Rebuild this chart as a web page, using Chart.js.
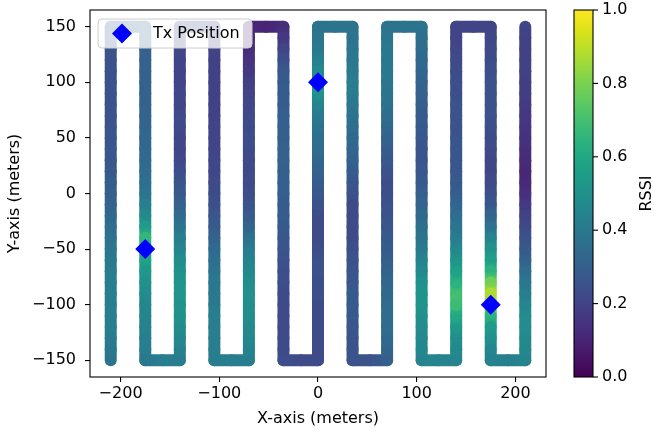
<!DOCTYPE html>
<html>
<head>
<meta charset="utf-8">
<script src="https://cdn.jsdelivr.net/npm/chart.js@4.4.1/dist/chart.umd.min.js"></script>
<style>
html,body{margin:0;padding:0;background:#fff;}
canvas{display:block;}
</style>
</head>
<body>
<canvas id="c" width="654" height="431"></canvas>
<script>
// ---------------- data ----------------
const laneX = [-210, -175, -140, -105, -70, -35, 0, 35, 70, 105, 140, 175, 210];
const laneY = [-150, -140, -130, -120, -110, -100, -90, -80, -70, -60, -50, -40, -30, -20, -10, 0,
               10, 20, 30, 40, 50, 60, 70, 80, 90, 100, 110, 120, 130, 140, 150];
// RSSI along each lane, listed from y = -150 (bottom) to y = 150 (top)
const rssiLane0  = [0.38,0.40,0.41,0.42,0.42,0.43,0.43,0.42,0.42,0.41,0.40,0.38,0.36,0.34,0.32,0.30,0.29,0.28,0.27,0.27,0.26,0.26,0.25,0.25,0.25,0.25,0.25,0.25,0.25,0.26,0.27];
const rssiLane1  = [0.40,0.42,0.43,0.44,0.45,0.46,0.48,0.50,0.53,0.58,0.63,0.66,0.55,0.47,0.42,0.38,0.36,0.35,0.34,0.33,0.33,0.32,0.32,0.31,0.31,0.31,0.31,0.31,0.31,0.32,0.32];
const rssiLane2  = [0.42,0.44,0.46,0.48,0.50,0.51,0.52,0.52,0.51,0.49,0.46,0.43,0.39,0.35,0.31,0.28,0.26,0.24,0.22,0.21,0.21,0.22,0.22,0.21,0.21,0.20,0.20,0.20,0.21,0.22,0.23];
const rssiLane3  = [0.42,0.42,0.42,0.42,0.42,0.41,0.40,0.40,0.38,0.36,0.34,0.31,0.28,0.26,0.24,0.23,0.22,0.21,0.21,0.20,0.20,0.20,0.19,0.19,0.19,0.19,0.19,0.19,0.20,0.20,0.21];
const rssiLane4  = [0.42,0.44,0.46,0.47,0.48,0.49,0.50,0.49,0.47,0.45,0.42,0.38,0.33,0.29,0.26,0.24,0.23,0.22,0.22,0.23,0.24,0.23,0.22,0.21,0.20,0.19,0.17,0.15,0.13,0.12,0.11];
const rssiLane5  = [0.24,0.23,0.23,0.22,0.22,0.23,0.23,0.24,0.24,0.25,0.26,0.27,0.28,0.29,0.29,0.30,0.30,0.30,0.31,0.31,0.30,0.30,0.30,0.29,0.29,0.28,0.27,0.24,0.20,0.16,0.13];
const rssiLane6  = [0.22,0.22,0.22,0.23,0.23,0.23,0.24,0.24,0.25,0.25,0.24,0.23,0.22,0.23,0.25,0.27,0.29,0.31,0.33,0.35,0.36,0.38,0.41,0.45,0.50,0.52,0.48,0.44,0.41,0.39,0.38];
const rssiLane7  = [0.25,0.25,0.26,0.27,0.28,0.28,0.28,0.27,0.26,0.25,0.24,0.23,0.22,0.22,0.23,0.25,0.27,0.29,0.31,0.33,0.34,0.36,0.38,0.40,0.42,0.42,0.41,0.40,0.39,0.38,0.38];
const rssiLane8  = [0.30,0.32,0.34,0.35,0.35,0.35,0.34,0.33,0.32,0.30,0.29,0.28,0.27,0.26,0.25,0.24,0.24,0.25,0.27,0.29,0.31,0.33,0.35,0.37,0.38,0.39,0.40,0.40,0.40,0.39,0.38];
const rssiLane9  = [0.45,0.46,0.47,0.48,0.50,0.51,0.51,0.50,0.47,0.44,0.41,0.38,0.36,0.34,0.32,0.30,0.28,0.27,0.26,0.26,0.27,0.28,0.29,0.30,0.31,0.32,0.33,0.34,0.35,0.36,0.38];
const rssiLane10 = [0.45,0.47,0.49,0.53,0.60,0.68,0.70,0.64,0.58,0.52,0.47,0.42,0.39,0.36,0.33,0.30,0.28,0.27,0.26,0.26,0.26,0.25,0.25,0.25,0.24,0.24,0.23,0.22,0.21,0.20,0.20];
const rssiLane11 = [0.44,0.46,0.50,0.55,0.65,0.85,0.88,0.78,0.64,0.56,0.50,0.44,0.37,0.32,0.27,0.24,0.22,0.21,0.21,0.22,0.23,0.24,0.25,0.25,0.25,0.25,0.24,0.23,0.22,0.21,0.20];
const rssiLane12 = [0.45,0.46,0.47,0.48,0.48,0.46,0.43,0.40,0.36,0.32,0.28,0.25,0.22,0.20,0.17,0.14,0.12,0.11,0.12,0.13,0.14,0.15,0.16,0.17,0.18,0.18,0.19,0.19,0.19,0.19,0.20];
// RSSI at the middle of each turn between neighbouring lanes (in path order)
const turnRssi = [0.28,0.42,0.22,0.42,0.10,0.22,0.38,0.25,0.38,0.45,0.20,0.43];

const txX = [-175, 0, 175];
const txY = [-50, 100, -100];

const xTicks = [-200, -100, 0, 100, 200];
const yTicks = [-150, -100, -50, 0, 50, 100, 150];
const cbTicks = [0.0, 0.2, 0.4, 0.6, 0.8, 1.0];

// ---------------- helpers ----------------
const laneRssi = [rssiLane0, rssiLane1, rssiLane2, rssiLane3, rssiLane4, rssiLane5, rssiLane6,
                  rssiLane7, rssiLane8, rssiLane9, rssiLane10, rssiLane11, rssiLane12];

const VIR = ['#440154','#471365','#482475','#463480','#414487','#3b528b','#355f8d','#2f6c8e',
             '#2a788e','#25848e','#21918c','#1e9c89','#22a884','#2fb47c','#44bf70','#5ec962',
             '#7ad151','#9bd93c','#bddf26','#dfe318','#fde725'];
function hex2rgb(h){return [parseInt(h.substr(1,2),16),parseInt(h.substr(3,2),16),parseInt(h.substr(5,2),16)];}
const VIRRGB = VIR.map(hex2rgb);
function viridis(v){
  v = Math.max(0, Math.min(1, v));
  const f = v * (VIR.length - 1);
  const i = Math.min(Math.floor(f), VIR.length - 2);
  const t = f - i;
  const a = VIRRGB[i], b = VIRRGB[i+1];
  const c = [0,1,2].map(k => Math.round(a[k] + (b[k]-a[k])*t));
  return 'rgb(' + c.join(',') + ')';
}

// build the path in flight order (lane 0 goes up, lane 1 goes down, ...)
const pathPts = [];
const pathV = [];
laneX.forEach((x, i) => {
  const up = (i % 2 === 0);
  const idx = laneY.map((_, k) => k);
  if (!up) idx.reverse();
  idx.forEach(k => { pathPts.push({x: x, y: laneY[k]}); pathV.push(laneRssi[i][k]); });
  if (i < laneX.length - 1) {
    const yEnd = up ? laneY[laneY.length-1] : laneY[0];
    pathPts.push({x: (x + laneX[i+1]) / 2, y: yEnd});
    pathV.push(turnRssi[i]);
  }
});

const txPts = txX.map((x, i) => ({x: x, y: txY[i]}));

const FONT = "'DejaVu Sans', 'Liberation Sans', sans-serif";
const canvas = document.getElementById('c');
const g2d = canvas.getContext('2d');
const minus = v => String(v).replace('-', '\u2212');

// ---------------- plugins ----------------
const framePlugin = {
  id: 'frame',
  afterDatasetsDraw(chart) {
    const {ctx, chartArea: a} = chart;
    // legend box
    const lx = a.left + 8, ly = a.top + 9, lw = 154, lh = 29;
    ctx.save();
    ctx.beginPath();
    if (ctx.roundRect) ctx.roundRect(lx, ly, lw, lh, 4); else ctx.rect(lx, ly, lw, lh);
    ctx.fillStyle = 'rgba(255,255,255,0.8)';
    ctx.fill();
    ctx.strokeStyle = '#cccccc';
    ctx.lineWidth = 1;
    ctx.stroke();
    const cx = lx + 24, cy = ly + lh / 2;
    ctx.fillStyle = '#0000ff';
    ctx.beginPath();
    ctx.moveTo(cx, cy - 10); ctx.lineTo(cx + 10, cy); ctx.lineTo(cx, cy + 10); ctx.lineTo(cx - 10, cy); ctx.closePath();
    ctx.fill();
    ctx.fillStyle = '#000';
    ctx.font = '16px ' + FONT;
    ctx.textAlign = 'left';
    ctx.textBaseline = 'middle';
    ctx.fillText('Tx Position', lx + 55, cy);
    ctx.restore();
  },
  afterDraw(chart) {
    const {ctx, chartArea: a} = chart;
    ctx.save();
    ctx.strokeStyle = '#000';
    ctx.lineWidth = 1.1;
    ctx.strokeRect(a.left, a.top, a.right - a.left, a.bottom - a.top);

    // colorbar
    const cb = chart.scales.cb;
    const x0 = 574, x1 = 593;
    const top = cb.getPixelForValue(1), bot = cb.getPixelForValue(0);
    const grad = ctx.createLinearGradient(0, bot, 0, top);
    VIR.forEach((c, i) => grad.addColorStop(i / (VIR.length - 1), c));
    ctx.fillStyle = grad;
    ctx.fillRect(x0, top, x1 - x0, bot - top);
    ctx.strokeRect(x0, top, x1 - x0, bot - top);
    ctx.font = '16px ' + FONT;
    ctx.fillStyle = '#000';
    ctx.textAlign = 'left';
    ctx.textBaseline = 'middle';
    cbTicks.forEach(v => {
      const y = cb.getPixelForValue(v);
      ctx.beginPath(); ctx.moveTo(x1, y); ctx.lineTo(x1 + 5, y); ctx.stroke();
      ctx.fillText(v.toFixed(1), x1 + 9, y);
    });
    ctx.translate(647, (top + bot) / 2);
    ctx.rotate(-Math.PI / 2);
    ctx.textAlign = 'center';
    ctx.fillText('RSSI', 0, 0);
    ctx.restore();
  }
};

// ---------------- chart ----------------
const tickFont = {family: FONT, size: 16};
new Chart(canvas, {
  type: 'scatter',
  data: {
    datasets: [
      {
        label: 'Tx Position',
        data: txPts,
        pointStyle: 'rectRot',
        pointRadius: 10,
        pointHoverRadius: 10,
        backgroundColor: '#0000ff',
        borderWidth: 0
      },
      {
        label: 'RSSI path',
        data: pathPts,
        showLine: true,
        pointRadius: 0,
        pointHitRadius: 0,
        borderWidth: 12,
        borderCapStyle: 'round',
        borderJoinStyle: 'round',
        tension: 0,
        borderColor: viridis(0.3),
        segment: {
          borderColor: (sc) => {
            const p0 = sc.p0, p1 = sc.p1;
            const gr = g2d.createLinearGradient(p0.x, p0.y, p1.x, p1.y);
            gr.addColorStop(0, viridis(pathV[sc.p0DataIndex]));
            gr.addColorStop(1, viridis(pathV[sc.p1DataIndex]));
            return gr;
          }
        }
      }
    ]
  },
  options: {
    responsive: false,
    animation: false,
    events: [],
    layout: {padding: {left: 0, top: 5, right: 108, bottom: 0}},
    plugins: {legend: {display: false}, tooltip: {enabled: false}},
    scales: {
      x: {
        type: 'linear', min: -231, max: 231,
        border: {display: false},
        grid: {drawOnChartArea: false, drawTicks: true, tickLength: 5, color: '#000', lineWidth: 1.1},
        ticks: {font: tickFont, color: '#000', padding: 2, maxRotation: 0, callback: v => minus(v)},
        afterBuildTicks: s => { s.ticks = xTicks.map(v => ({value: v})); },
        afterFit: s => { s.height = 54; s.paddingLeft = 0; s.paddingRight = 0; },
        title: {display: true, text: 'X-axis (meters)', font: tickFont, color: '#000', padding: {top: 0, bottom: 3}}
      },
      y: {
        type: 'linear', min: -165, max: 165,
        border: {display: false},
        grid: {drawOnChartArea: false, drawTicks: true, tickLength: 5, color: '#000', lineWidth: 1.1},
        ticks: {font: tickFont, color: '#000', padding: 9, callback: v => minus(v)},
        afterBuildTicks: s => { s.ticks = yTicks.map(v => ({value: v})); },
        afterFit: s => { s.width = 90; s.paddingTop = 0; s.paddingBottom = 0; },
        title: {display: true, text: 'Y-axis (meters)', font: tickFont, color: '#000', padding: {top: 5, bottom: 0}}
      },
      cb: {
        type: 'linear', axis: 'y', position: 'right', min: 0, max: 1, display: false
      }
    }
  },
  plugins: [framePlugin]
});
</script>
</body>
</html>
